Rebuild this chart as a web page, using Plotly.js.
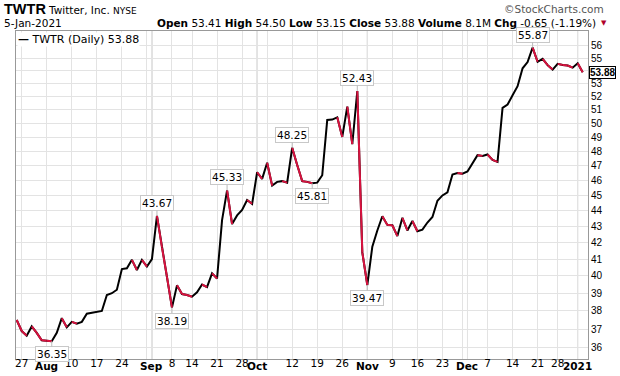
<!DOCTYPE html>
<html>
<head>
<meta charset="utf-8">
<script src="https://cdn.plot.ly/plotly-3.0.1.min.js"></script>
<style>html,body{margin:0;padding:0;background:#fff;}#chart{width:620px;height:376px;}</style>
</head>
<body>
<div id="chart"></div>
<script>
// ---- trading days (categories) ----
const julDays = [24,27,28,29,30,31];
const augDays = [3,4,5,6,7,10,11,12,13,14,17,18,19,20,21,24,25,26,27,28,31];
const sepDays = [1,2,3,4,8,9,10,11,14,15,16,17,18,21,22,23,24,25,28,29,30];
const octDays = [1,2,5,6,7,8,9,12,13,14,15,16,19,20,21,22,23,26,27,28,29,30];
const novDays = [2,3,4,5,6,9,10,11,12,13,16,17,18,19,20,23,24,25,27,30];
const decDays = [1,2,3,4,7,8,9,10,11,14,15,16,17,18,21,22,23,24,28,29,30,31];
const janDays = [4,5];

// ---- daily closes ----
const closes = [
  37.5, 36.9, 36.65, 37.15, 36.8, 36.40,
  36.38, 36.35, 36.8, 37.6, 37.1, 37.4, 37.3, 37.4, 37.85, 37.9, 37.95, 38.0, 38.9, 39.0, 39.2, 40.4, 40.45, 40.95, 40.35, 40.95, 40.55,
  41.0, 43.67, 41.7, 39.95, 38.19, 39.45, 38.95, 38.9, 38.8, 39.05, 39.5, 39.35, 40.15, 39.85, 43.4, 45.33, 43.15, 43.7, 44.05, 44.7, 44.45,
  46.55, 46.1, 47.2, 45.65, 45.9, 45.95, 45.85, 48.25, 47.05, 45.95, 45.9, 45.81, 45.85, 46.35, 50.25, 50.28, 50.45, 49.02, 51.25, 48.5, 52.43, 41.4,
  39.47, 41.75, 42.75, 43.65, 43.1, 43.08, 42.4, 43.55, 42.75, 43.35, 42.7, 42.8, 43.25, 43.6, 44.65, 45.0, 45.2, 46.4, 46.5, 46.45,
  46.6, 47.15, 47.73, 47.68, 47.78, 47.4, 47.26, 51.15, 51.4, 52.1, 52.8, 54.2, 54.7, 55.87, 54.72, 54.95, 54.45, 54.1, 54.55, 54.47, 54.42, 54.25,
  54.6, 53.88
];

// ---- axis ticks ----
const gridDates = ['2020-07-27','2020-08-03','2020-08-10','2020-08-17','2020-08-24','2020-08-31','2020-09-01','2020-09-08','2020-09-14','2020-09-21','2020-09-28','2020-10-01','2020-10-05','2020-10-12','2020-10-19','2020-10-26','2020-11-02','2020-11-09','2020-11-16','2020-11-23','2020-11-30','2020-12-01','2020-12-07','2020-12-14','2020-12-21','2020-12-28','2021-01-04'];
const gridLabels = ['27','','10','17','24','','','8','14','21','28','','','12','19','26','','9','16','23','','','7','14','21','28',''];
const monthLabelDates = ['2020-08-03','2020-09-01','2020-10-01','2020-11-02','2020-12-01','2021-01-04'];
const monthLabels = ['Aug','Sep','Oct','Nov','Dec','2021'];
const monthStarts = ['2020-09-01','2020-10-01','2020-11-02','2020-12-01','2021-01-04'];
const priceTicks = [36,37,38,39,40,41,42,43,44,45,46,47,48,49,50,51,52,53,54,55,56];
const priceLabels = ['36','37','38','39','40','41','42','43','44','45','46','47','48','49','50','51','52','53','','55','56'];

// ---- labelled highs / lows ----
const markedDates = ['2020-08-04','2020-09-02','2020-09-08','2020-09-23','2020-10-12','2020-10-16','2020-10-29','2020-11-02','2020-12-18'];
const markedSide  = ['below','above','below','above','above','below','above','below','above'];

// ---- header ----
const symbol = 'TWTR', company = 'Twitter, Inc.', exchange = 'NYSE', asOf = '5-Jan-2021';
const openV = 53.41, highV = 54.50, lowV = 53.15, volumeV = '8.1M', chgV = -0.65, chgPct = -1.19;

const pad = d => (d < 10 ? '0' : '') + d;
const dates = [].concat(
  julDays.map(d => '2020-07-' + pad(d)), augDays.map(d => '2020-08-' + pad(d)),
  sepDays.map(d => '2020-09-' + pad(d)), octDays.map(d => '2020-10-' + pad(d)),
  novDays.map(d => '2020-11-' + pad(d)), decDays.map(d => '2020-12-' + pad(d)),
  janDays.map(d => '2021-01-' + pad(d)));

const lastClose = closes[closes.length - 1];
const RED = '#d8123f';

// down segments in red
const rx = [], ry = [];
for (let k = 1; k < closes.length; k++) {
  if (closes[k] < closes[k - 1]) {
    rx.push(dates[k - 1], dates[k], dates[k]);
    ry.push(closes[k - 1], closes[k], null);
  }
}

const traces = [
  {x: dates, y: closes, type: 'scatter', mode: 'lines', line: {color: '#000', width: 2}, hoverinfo: 'skip'},
  {x: rx, y: ry, type: 'scatter', mode: 'lines', line: {color: RED, width: 2}, connectgaps: false, hoverinfo: 'skip'}
];

const W = 620, H = 376, ML = 16, MR = 32, MT = 31, MB = 17;
const px = x => (x - ML) / (W - ML - MR);
const py = y => (H - MB - y) / (H - MT - MB);
const F = 'DejaVu Sans, Verdana, sans-serif';
const FA = 'Liberation Sans, Arial, sans-serif';

const annotations = [];
markedDates.forEach((d, j) => {
  const k = dates.indexOf(d);
  const up = markedSide[j] === 'above';
  annotations.push({
    x: d, y: Math.log10(closes[k]), xref: 'x', yref: 'y',
    text: closes[k].toFixed(2), showarrow: true, arrowhead: 0, arrowwidth: 1, arrowcolor: '#bbb',
    ax: 0, ay: up ? -13 : 13, standoff: 0,
    bgcolor: '#fff', bordercolor: '#c8c8c8', borderwidth: 1, borderpad: 1,
    font: {family: F, size: 10.5, color: '#000'}
  });
});
// bold month labels on the x axis
monthLabelDates.forEach((d, j) => {
  annotations.push({
    x: d, xref: 'x', yref: 'paper', y: py(366), xanchor: 'center', yanchor: 'middle', showarrow: false,
    text: '<b>' + monthLabels[j] + '</b>', font: {family: F, size: 10.5, color: '#000'}
  });
});
// last value tag
annotations.push({
  xref: 'paper', yref: 'y', x: 1, y: Math.log10(lastClose), xanchor: 'left', xshift: 1,
  text: '<b>' + lastClose.toFixed(2) + '</b>', showarrow: false,
  bgcolor: '#fff', bordercolor: '#000', borderwidth: 1, borderpad: 0,
  font: {family: FA, size: 10, color: '#000'}
});
// legend
annotations.push({
  xref: 'paper', yref: 'paper', x: 0, y: 1, xanchor: 'left', yanchor: 'top', xshift: 1, yshift: -1,
  text: '<b>—</b> ' + symbol + ' (Daily) ' + lastClose.toFixed(2), showarrow: false,
  bgcolor: '#fff', borderpad: 0, font: {family: F, size: 11, color: '#000'}
});
// header
annotations.push(
  {xref: 'paper', yref: 'paper', x: px(2), y: py(9), xanchor: 'left', yanchor: 'middle', showarrow: false,
   text: '<b>' + symbol + '</b>', font: {family: FA, size: 14.5, color: '#000'}},
  {xref: 'paper', yref: 'paper', x: px(46), y: py(10), xanchor: 'left', yanchor: 'middle', showarrow: false,
   text: company + ' <span style="font-size:9px">' + exchange + '</span>', font: {family: F, size: 10.5, color: '#000'}},
  {xref: 'paper', yref: 'paper', x: px(2), y: py(23), xanchor: 'left', yanchor: 'middle', showarrow: false,
   text: asOf, font: {family: F, size: 10.5, color: '#000'}},
  {xref: 'paper', yref: 'paper', x: px(598), y: py(23), xanchor: 'right', yanchor: 'middle', showarrow: false,
   text: '<b>Open</b> ' + openV.toFixed(2) + ' <b>High</b> ' + highV.toFixed(2) + ' <b>Low</b> ' + lowV.toFixed(2) +
         ' <b>Close</b> ' + lastClose.toFixed(2) + ' <b>Volume</b> ' + volumeV + ' <b>Chg</b> ' + chgV.toFixed(2) + ' (' + chgPct.toFixed(2) + '%)',
   font: {family: F, size: 10.5, color: '#000'}},
  {xref: 'paper', yref: 'paper', x: px(599), y: py(23), xanchor: 'left', yanchor: 'middle', showarrow: false,
   text: '▼', font: {family: F, size: 7, color: '#b0002a'}},
  {xref: 'paper', yref: 'paper', x: px(606), y: py(9), xanchor: 'right', yanchor: 'middle', showarrow: false,
   text: '©StockCharts.com', font: {family: F, size: 10.5, color: '#555'}}
);

const shapes = monthStarts.map(d => ({
  type: 'line', xref: 'x', yref: 'paper', x0: d, x1: d, y0: 0, y1: 1, layer: 'below',
  line: {color: '#bdbdbd', width: 1}
}));

const layout = {
  width: W, height: H,
  margin: {l: ML, r: MR, t: MT, b: MB, pad: 0},
  paper_bgcolor: '#fff', plot_bgcolor: '#fff',
  showlegend: false,
  xaxis: {
    type: 'category', range: [-0.14, 114.06], tickvals: gridDates, ticktext: gridLabels,
    showgrid: true, gridcolor: '#e3e3e3', gridwidth: 1,
    showline: true, linecolor: '#999', mirror: true, ticks: '', zeroline: false,
    ticklabelstandoff: -6,
    tickfont: {family: F, size: 10.5, color: '#000'}, fixedrange: true
  },
  yaxis: {
    type: 'log', side: 'right', range: [Math.log10(35.42), Math.log10(57.24)],
    tickvals: priceTicks, ticktext: priceLabels,
    showgrid: true, gridcolor: '#e3e3e3', gridwidth: 1,
    showline: true, linecolor: '#999', mirror: true, ticks: '', zeroline: false,
    tickfont: {family: FA, size: 10, color: '#000'}, fixedrange: true
  },
  shapes: shapes,
  annotations: annotations
};

Plotly.newPlot('chart', traces, layout, {displayModeBar: false, staticPlot: true});
</script>
</body>
</html>
